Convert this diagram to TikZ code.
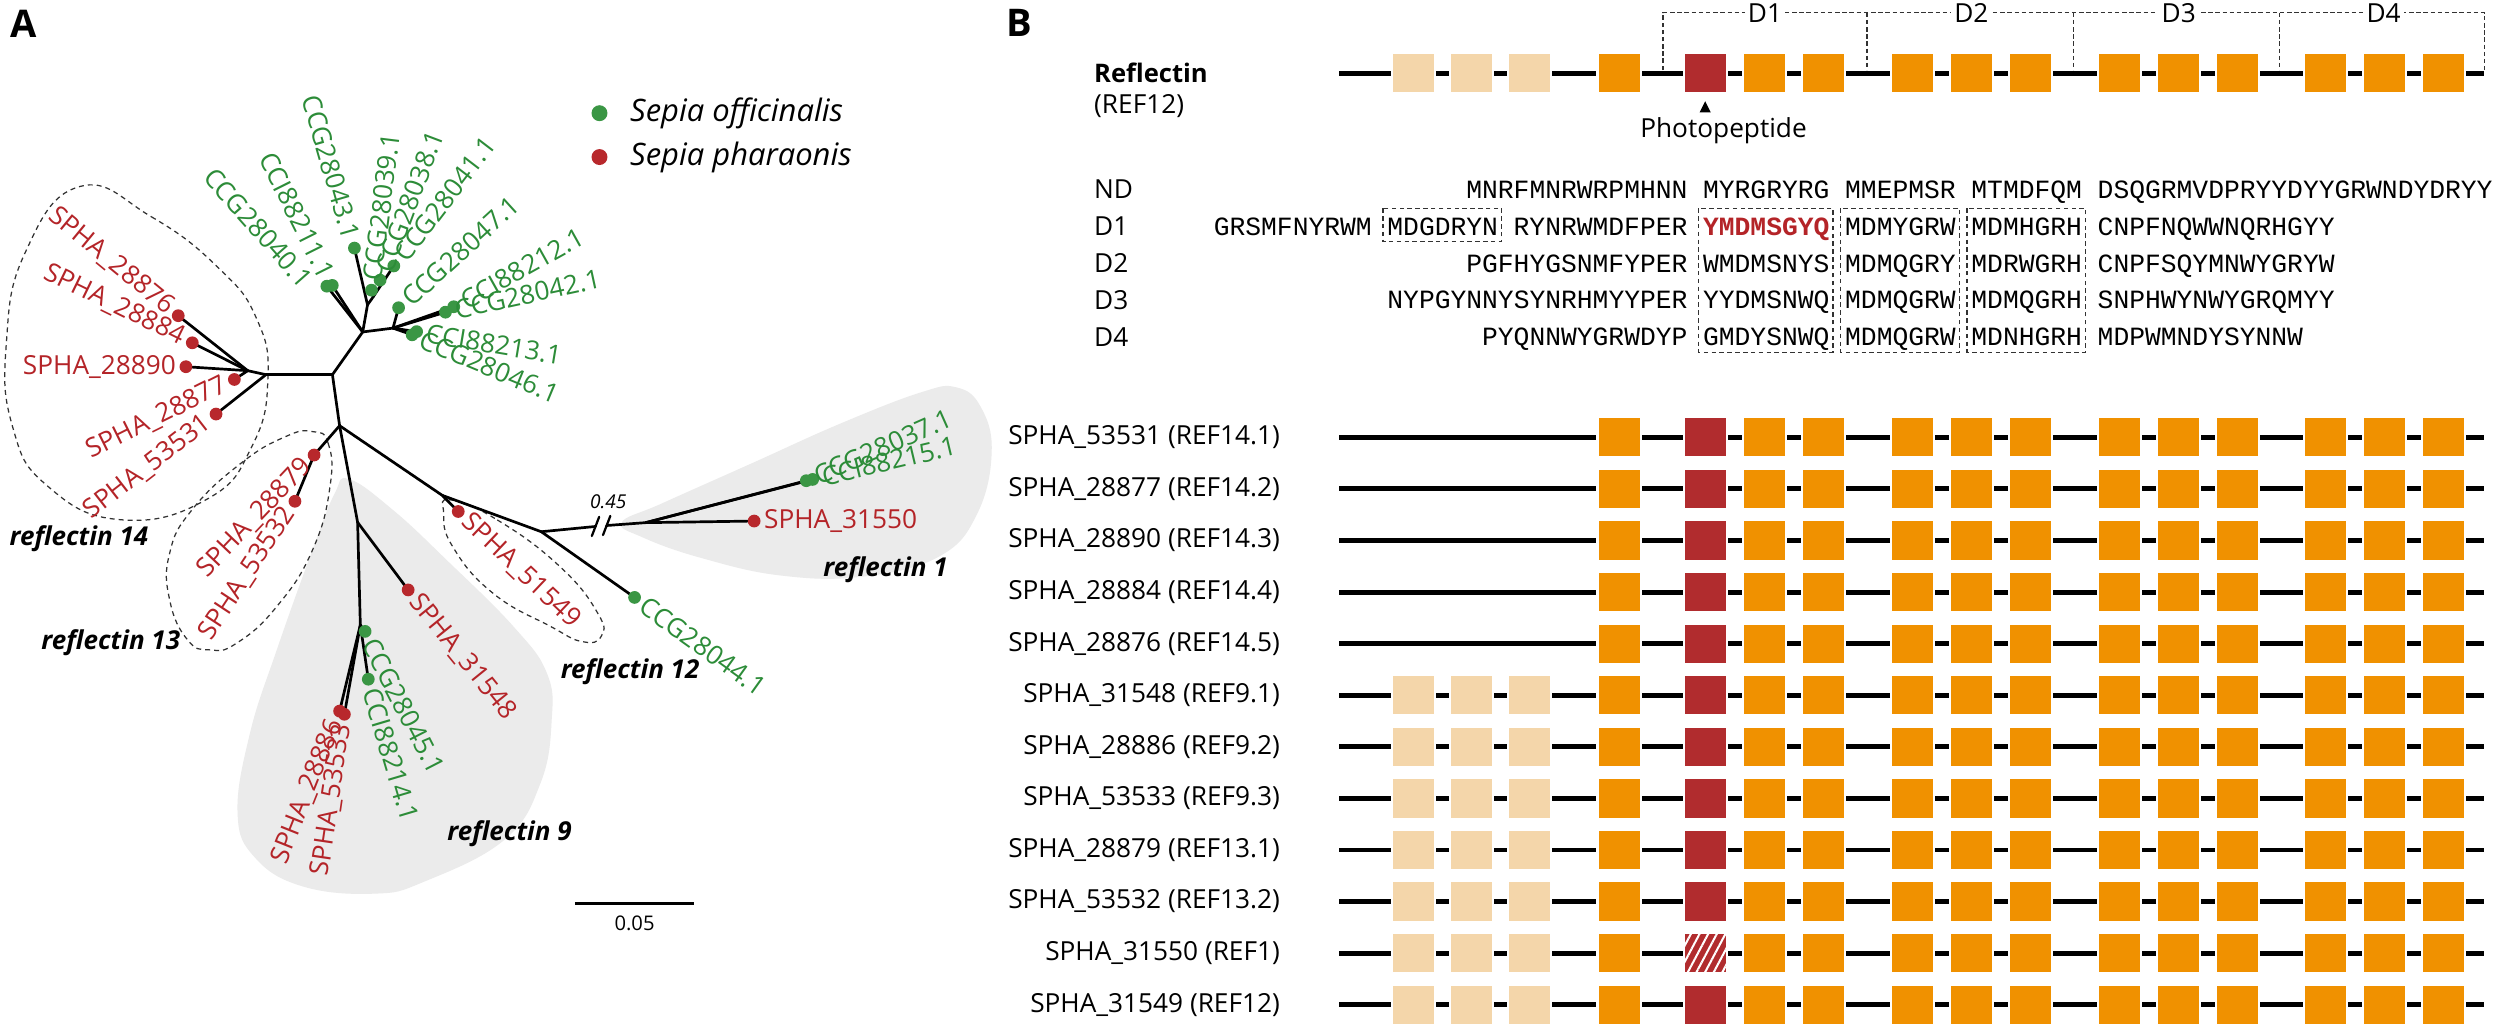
\documentclass[tikz,border=0pt]{standalone}
\usepackage{fontspec}
\setmainfont{Open Sans}
\newfontfamily\seqfont{Liberation Mono}
\usetikzlibrary{calc,patterns.meta}
\definecolor{tred}{RGB}{180,36,40}
\definecolor{tgreen}{RGB}{44,140,56}
\definecolor{dotgreen}{RGB}{58,150,68}
\definecolor{dotred}{RGB}{184,40,44}
\definecolor{gorange}{RGB}{240,145,0}
\definecolor{glight}{RGB}{244,214,170}
\definecolor{gred}{RGB}{177,44,46}
\definecolor{blobgray}{RGB}{235,235,235}
\definecolor{dashgray}{RGB}{50,50,50}
\newcommand\leafR[5]{\node[#1,rotate=#4,anchor=west] (#2) at ($(#3)+({-(#4)}:6)$) {#5};}
\newcommand\leafL[5]{\node[#1,rotate=#4,anchor=east] (#2) at ($(#3)+({-(#4)-180}:6)$) {#5};}
\newcommand\seqat[4]{\node[seq,anchor=base west] (#1) at ({761+9.9*(#2)},#3) {#4};}
\newcommand\generow[3]{%
  \draw[gline] (840,#1) -- (1558,#1);
  \ifnum#2=1
    \foreach \bx in {873,909.5,946}{\filldraw[gbox,fill=glight] (\bx,#1-12.7) rectangle ++(27,25.4);}
  \fi
  \foreach \bx in {1002,1093,1130,1186,1223,1260,1316,1353,1390,1445,1482,1519}{\filldraw[gbox,fill=gorange] (\bx,#1-12.7) rectangle ++(27,25.4);}
  \filldraw[gbox,fill=gred] (1056,#1-12.7) rectangle ++(27,25.4);
  \ifnum#3=1
    \fill[pattern={Lines[angle=62,distance=3.4pt,line width=0.9pt]},pattern color=white] (1056.6,#1-12.1) rectangle ++(25.8,24.2);
  \fi
}
\begin{document}
\begin{tikzpicture}[x=0.025cm,y=-0.025cm,
  br/.style={line width=1.2pt,line cap=round,line join=round},
  lab/.style={font=\fontsize{11.7}{14}\selectfont,inner sep=0pt},
  gl/.style={lab,text=tgreen},
  rl/.style={lab,text=tred},
  gdot/.style={circle,fill=dotgreen,inner sep=0pt,minimum size=0.2cm},
  rdot/.style={circle,fill=dotred,inner sep=0pt,minimum size=0.2cm},
  clade/.style={font=\fontsize{11.6}{14}\selectfont\bfseries\itshape,inner sep=0pt},
  hull/.style={draw=dashgray,line width=0.55pt,dash pattern=on 2.2pt off 1.8pt},
  blob/.style={fill=blobgray},
  gline/.style={line width=2.2pt},
  gbox/.style={draw=white,line width=1pt},
  seq/.style={font=\seqfont\fontsize{11.74}{14}\selectfont,inner sep=0pt},
  seqbox/.style={draw=dashgray,line width=0.55pt,dash pattern=on 2pt off 1.5pt},
  brk/.style={draw=dashgray,line width=0.55pt,dash pattern=on 2pt off 1.2pt},
  panel/.style={font=\fontsize{17}{20}\selectfont\bfseries,inner sep=0pt}
]
\fill[white] (0,0) rectangle (1568,645.4);
\useasboundingbox (0,0) rectangle (1568,645.4);

% ---------------- Panel A ----------------
\node[panel] (pA) at (15,15) {A};
\node[gdot,minimum size=0.25cm] (lg1) at (376,71) {};
\node[rdot,minimum size=0.25cm] (lg2) at (376,98.5) {};
\node[font=\fontsize{13.8}{16}\selectfont\itshape,anchor=west,inner sep=0pt] (lt1) at (395,71) {Sepia officinalis};
\node[font=\fontsize{13.8}{16}\selectfont\itshape,anchor=west,inner sep=0pt] (lt2) at (395,98.5) {Sepia pharaonis};

% grey clade areas
\fill[blob] plot[smooth cycle,tension=0.7] coordinates {(219,300.5) (246.4,319.8) (280,351.1) (322,392.9) (343,422.2) (346,452) (339,491.2) (316.4,526.7) (266,553) (235,560.5) (190,556) (160,538) (149,510) (156.8,459.8) (173.6,407.6) (196,344.9) (210,309.3)};
\fill[blob] plot[smooth cycle,tension=0.7] coordinates {(390,327.6) (415.5,315.6) (471.5,290.6) (527.5,265.5) (577.9,246) (600,243) (615,255) (622,283) (613,322) (589.1,349) (541.5,361.6) (490,361) (440,350) (403,337)};

% dashed hulls
\draw[hull] plot[smooth cycle,tension=0.8] coordinates {(50,117) (95,136) (137,168) (161,200) (168,238) (158,280) (130,313) (76,326) (30,305) (8,268) (4,215) (16,158)};
\draw[hull] plot[smooth cycle,tension=0.8] coordinates {(196,270.7) (205.8,278) (207,305) (196,345) (173.6,380.4) (148.4,403.4) (131.6,407.6) (117.6,401.3) (106.4,376.2) (106.4,347) (120.4,319.8) (151.2,290.5) (179.2,273.8)};
\draw[hull] plot[smooth cycle,tension=0.8] coordinates {(282.5,313.5) (311.9,326.1) (351.1,355.3) (374.9,384.6) (377,399.2) (365.1,402.4) (345.5,393) (309.1,372) (283.9,342.8) (278.3,321.9)};

% internal nodes
\coordinate (C0) at (208.5,235);
\coordinate (U1) at (227.5,208.2);
\coordinate (N1) at (230.5,191.2);
\coordinate (N2) at (234.2,186);
\coordinate (N3) at (239.7,177.8);
\coordinate (R1) at (246.5,205.8);
\coordinate (L1) at (166.8,235);
\coordinate (L2) at (155.4,232.5);
\coordinate (M1) at (213,267);
\coordinate (V1) at (224.3,327.6);
\coordinate (V2) at (226,392);
\coordinate (Q1) at (277.4,310.7);
\coordinate (Q2) at (339.5,333.5);
\coordinate (Q3) at (405,327.8);
\coordinate (B1) at (373.5,330.2);
\coordinate (B2) at (380.5,329.6);
% leaves
\coordinate (d40) at (205,179.5);
\coordinate (d11) at (208.4,179);
\coordinate (d43) at (222.3,155.6);
\coordinate (d39) at (233,182);
\coordinate (d38) at (238.4,175.7);
\coordinate (d41) at (247,166.8);
\coordinate (d47) at (250,193);
\coordinate (d42) at (279.4,195.8);
\coordinate (d12) at (284.6,192.4);
\coordinate (d13) at (261.3,208);
\coordinate (d46) at (258.5,210);
\coordinate (d45) at (229,396);
\coordinate (d14) at (231,426);
\coordinate (d44) at (398,374.7);
\coordinate (d37) at (505.7,301.5);
\coordinate (d15) at (509.7,300.7);
\coordinate (d76) at (111.8,198);
\coordinate (d84) at (120.6,215);
\coordinate (d90) at (116.6,230);
\coordinate (d77) at (147,238);
\coordinate (d31) at (135.5,259.7);
\coordinate (d79) at (197,285.4);
\coordinate (d32) at (185,314.4);
\coordinate (d48) at (256,370);
\coordinate (d86) at (213,446);
\coordinate (d33) at (216,448);
\coordinate (d49) at (287.4,320.8);
\coordinate (d50) at (473,326.8);

% branches
\draw[br] (C0) -- (U1);
\draw[br] (U1) -- (d40);
\draw[br] (U1) -- (d11);
\draw[br] (U1) -- (N1);
\draw[br] (N1) -- (d43);
\draw[br] (N1) -- (N2);
\draw[br] (N2) -- (d39);
\draw[br] (N2) -- (d41);
\draw[br] (N3) -- (d38);
\draw[br] (U1) -- (R1);
\draw[br] (R1) -- (d47);
\draw[br] (R1) -- (d42);
\draw[br] (R1) -- (d12);
\draw[br] (R1) -- (d46);
\draw[br] (R1) -- (d13);
\draw[br] (C0) -- (L1);
\draw[br] (L1) -- (L2);
\draw[br] (L2) -- (d76);
\draw[br] (L2) -- (d84);
\draw[br] (L2) -- (d90);
\draw[br] (L2) -- (d77);
\draw[br] (L1) -- (d31);
\draw[br] (C0) -- (M1);
\draw[br] (M1) -- (d79);
\draw[br] (d79) -- (d32);
\draw[br] (M1) -- (V1);
\draw[br] (V1) -- (d48);
\draw[br] (V1) -- (V2);
\draw[br] (V2) -- (d45);
\draw[br] (V2) -- (d14);
\draw[br] (V2) -- (d86);
\draw[br] (V2) -- (d33);
\draw[br] (M1) -- (Q1);
\draw[br] (Q1) -- (d49);
\draw[br] (Q1) -- (Q2);
\draw[br] (Q2) -- (d44);
\draw[br] (Q2) -- (B1);
\draw[br] (B2) -- (Q3);
\draw[br] (Q3) -- (d37);
\draw[br] (Q3) -- (d15);
\draw[br] (Q3) -- (d50);
\draw[br,line width=1pt] ($(B1)+(-2.3,6)$) -- ($(B1)+(2.3,-6)$);
\draw[br,line width=1pt] ($(B2)+(-2.3,6)$) -- ($(B2)+(2.3,-6)$);
\node[font=\fontsize{8.5}{10}\selectfont\itshape,inner sep=0pt] (brklab) at (381.5,314.5) {0.45};

% dots
\foreach \d in {d40,d11,d43,d39,d38,d41,d47,d42,d12,d13,d46,d45,d14,d44,d37,d15}{\node[gdot] (n\d) at (\d) {};}
\foreach \d in {d76,d84,d90,d77,d31,d79,d32,d48,d86,d33,d49,d50}{\node[rdot] (n\d) at (\d) {};}

% leaf labels
\leafR{gl}{t39}{d39}{83}{CCG28039.1}
\leafR{gl}{t38}{d38}{69.4}{CCG28038.1}
\leafR{gl}{t41}{d41}{52.6}{CCG28041.1}
\leafR{gl}{t47}{d47}{42.4}{CCG28047.1}
\leafR{gl}{t12}{d12}{29.2}{CCI88212.1}
\leafR{gl}{t42}{d42}{12.3}{CCG28042.1}
\leafR{gl}{t13}{d13}{-9.4}{CCI88213.1}
\leafR{gl}{t46}{d46}{-22.6}{CCG28046.1}
\leafR{rl}{t48}{d48}{-51}{SPHA\_31548}
\leafR{gl}{t45}{d45}{-62.8}{CCG28045.1}
\leafR{gl}{t14}{d14}{-73.4}{CCI88214.1}
\leafR{rl}{t49}{d49}{-43.5}{SPHA\_51549}
\leafR{gl}{t44}{d44}{-35.6}{CCG28044.1}
\leafR{gl}{t37}{d37}{23.9}{CCG28037.1}
\leafR{gl}{t15}{d15}{13.4}{CCI88215.1}
\leafR{rl}{t50}{d50}{0}{SPHA\_31550}
\node[gl,rotate=-48.5,anchor=east] (t40) at (193,178) {CCG28040.1};
\leafL{gl}{t11}{d11}{-63.4}{CCI88211.1}
\leafL{gl}{t43}{d43}{-73.9}{CCG28043.1}
\leafL{rl}{t76}{d76}{-39.4}{SPHA\_28876}
\leafL{rl}{t84}{d84}{-26}{SPHA\_28884}
\leafL{rl}{t90}{d90}{0}{SPHA\_28890}
\leafL{rl}{t77}{d77}{26.4}{SPHA\_28877}
\leafL{rl}{t31}{d31}{37.8}{SPHA\_53531}
\leafL{rl}{t79}{d79}{46.6}{SPHA\_28879}
\leafL{rl}{t32}{d32}{56.6}{SPHA\_53532}
\leafL{rl}{t86}{d86}{68.2}{SPHA\_28886}
\leafL{rl}{t33}{d33}{81.6}{SPHA\_53533}

% clade names
\node[clade] (c14) at (49.5,337.7) {reflectin 14};
\node[clade] (c13) at (69.5,403.2) {reflectin 13};
\node[clade] (c9) at (319.6,522.6) {reflectin 9};
\node[clade] (c12) at (395.2,421.3) {reflectin 12};
\node[clade] (c1) at (555.4,357) {reflectin 1};

% scale bar
\coordinate (sb1) at (360.6,566.5);
\coordinate (sb2) at (435.4,566.5);
\draw[line width=1.3pt] (sb1) -- (sb2);
\node[font=\fontsize{9}{11}\selectfont,inner sep=0pt] (sbl) at (398,578.9) {0.05};

% ---------------- Panel B ----------------
\node[panel] (pB) at (639.5,14.5) {B};
\node[font=\fontsize{11.4}{14}\selectfont\bfseries,anchor=west,inner sep=0pt] (refl) at (686,46) {Reflectin};
\node[lab,anchor=west] (refl2) at (686,66.5) {(REF12)};

% domain bracket
\draw[brk] (1043,44) -- (1043,8) -- (1558.5,8) -- (1558.5,44);
\foreach \bx in {1171,1300.6,1429.5}{\draw[brk] (\bx,8) -- (\bx,44);}

\generow{46}{1}{0}
\node[lab,fill=white,inner sep=1.5pt] (D1l) at (1107,8) {D1};
\node[lab,fill=white,inner sep=1.5pt] (D2l) at (1236.4,8) {D2};
\node[lab,fill=white,inner sep=1.5pt] (D3l) at (1366.5,8) {D3};
\node[lab,fill=white,inner sep=1.5pt] (D4l) at (1495,8) {D4};

\fill (1066,70.5) -- (1073,70.5) -- (1069.5,63.5) -- cycle;
\node[lab] (photo) at (1081,82) {Photopeptide};

% sequences
\node[lab,anchor=base west] (lND) at (686,124.6) {ND};
\node[lab,anchor=base west] (lD1) at (686,148) {D1};
\node[lab,anchor=base west] (lD2) at (686,171) {D2};
\node[lab,anchor=base west] (lD3) at (686,194) {D3};
\node[lab,anchor=base west] (lD4) at (686,217.3) {D4};

\seqat{sNDa}{16}{124.2}{MNRFMNRWRPMHNN}
\seqat{sNDb}{31}{124.2}{MYRGRYRG}
\seqat{sNDc}{40}{124.2}{MMEPMSR}
\seqat{sNDd}{48}{124.2}{MTMDFQM}
\seqat{sNDe}{56}{124.2}{DSQGRMVDPRYYDYYGRWNDYDRYY}

\seqat{sD1a}{0}{147.6}{GRSMFNYRWM}
\seqat{sD1b}{11}{147.6}{MDGDRYN}
\seqat{sD1c}{19}{147.6}{RYNRWMDFPER}
\node[seq,anchor=base west,text=tred,font=\seqfont\bfseries\fontsize{11.74}{14}\selectfont] (sD1d) at ({761+9.9*31},147.6) {YMDMSGYQ};
\seqat{sD1e}{40}{147.6}{MDMYGRW}
\seqat{sD1f}{48}{147.6}{MDMHGRH}
\seqat{sD1g}{56}{147.6}{CNPFNQWWNQRHGYY}

\seqat{sD2a}{16}{170.6}{PGFHYGSNMFYPER}
\seqat{sD2b}{31}{170.6}{WMDMSNYS}
\seqat{sD2c}{40}{170.6}{MDMQGRY}
\seqat{sD2d}{48}{170.6}{MDRWGRH}
\seqat{sD2e}{56}{170.6}{CNPFSQYMNWYGRYW}

\seqat{sD3a}{11}{193.6}{NYPGYNNYSYNRHMYYPER}
\seqat{sD3b}{31}{193.6}{YYDMSNWQ}
\seqat{sD3c}{40}{193.6}{MDMQGRW}
\seqat{sD3d}{48}{193.6}{MDMQGRH}
\seqat{sD3e}{56}{193.6}{SNPHWYNWYGRQMYY}

\seqat{sD4a}{17}{216.8}{PYQNNWYGRWDYP}
\seqat{sD4b}{31}{216.8}{GMDYSNWQ}
\seqat{sD4c}{40}{216.8}{MDMQGRW}
\seqat{sD4d}{48}{216.8}{MDNHGRH}
\seqat{sD4e}{56}{216.8}{MDPWMNDYSYNNW}

\draw[seqbox] (867.4,130.6) rectangle (941.7,151.5);
\draw[seqbox] (1065.4,130.6) rectangle (1149.6,220.9);
\draw[seqbox] (1154.5,130.6) rectangle (1228.8,220.9);
\draw[seqbox] (1233.7,130.6) rectangle (1308,220.9);

% gene rows
\generow{274.3}{0}{0}
\generow{306.65}{0}{0}
\generow{339.0}{0}{0}
\generow{371.35}{0}{0}
\generow{403.7}{0}{0}
\generow{436.05}{1}{0}
\generow{468.4}{1}{0}
\generow{500.75}{1}{0}
\generow{533.1}{1}{0}
\generow{565.45}{1}{0}
\generow{597.8}{1}{1}
\generow{630.15}{1}{0}

\node[lab,anchor=east] (r0) at (803,274.3) {SPHA\_53531 (REF14.1)};
\node[lab,anchor=east] (r1) at (803,306.65) {SPHA\_28877 (REF14.2)};
\node[lab,anchor=east] (r2) at (803,339.0) {SPHA\_28890 (REF14.3)};
\node[lab,anchor=east] (r3) at (803,371.35) {SPHA\_28884 (REF14.4)};
\node[lab,anchor=east] (r4) at (803,403.7) {SPHA\_28876 (REF14.5)};
\node[lab,anchor=east] (r5) at (803,436.05) {SPHA\_31548 (REF9.1)};
\node[lab,anchor=east] (r6) at (803,468.4) {SPHA\_28886 (REF9.2)};
\node[lab,anchor=east] (r7) at (803,500.75) {SPHA\_53533 (REF9.3)};
\node[lab,anchor=east] (r8) at (803,533.1) {SPHA\_28879 (REF13.1)};
\node[lab,anchor=east] (r9) at (803,565.45) {SPHA\_53532 (REF13.2)};
\node[lab,anchor=east] (r10) at (803,597.8) {SPHA\_31550 (REF1)};
\node[lab,anchor=east] (r11) at (803,630.15) {SPHA\_31549 (REF12)};
\end{tikzpicture}
\end{document}
